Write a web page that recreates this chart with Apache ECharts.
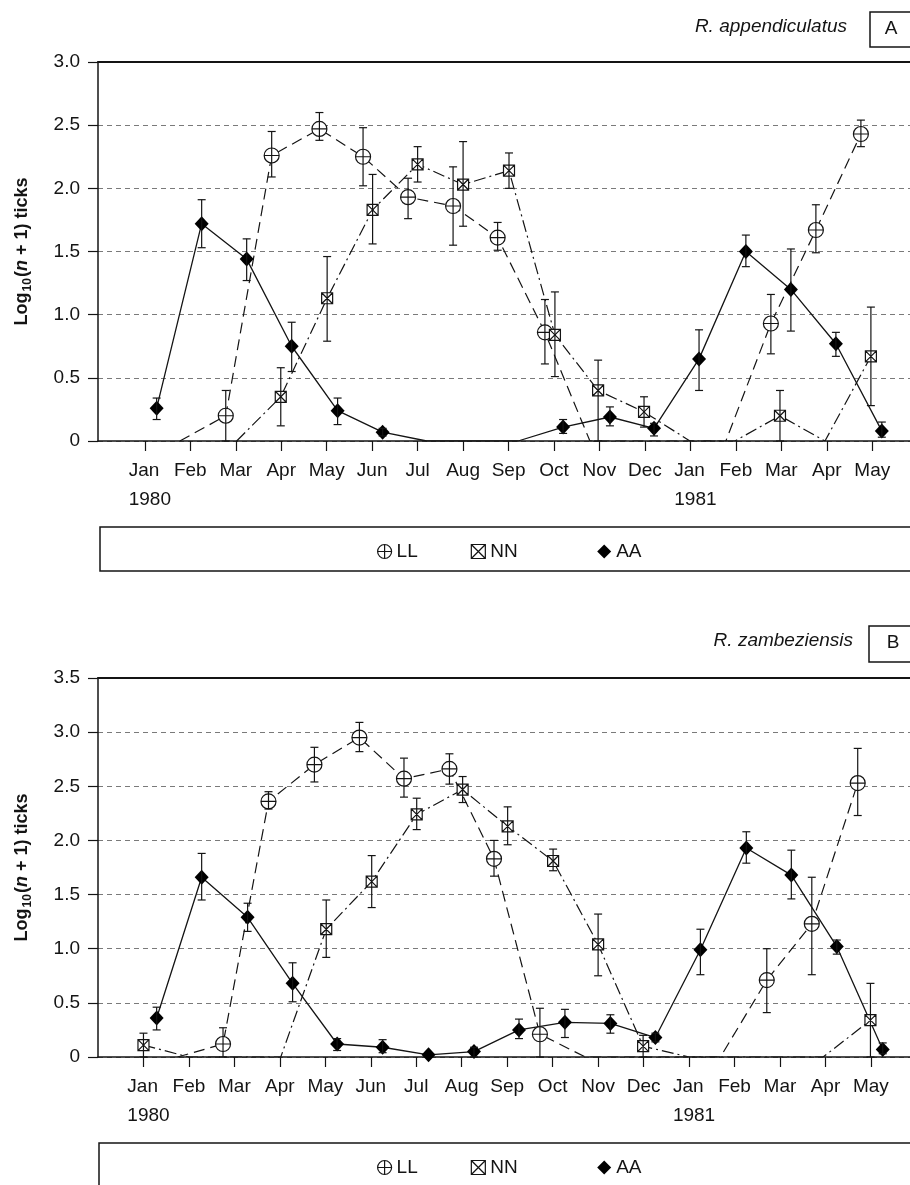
<!DOCTYPE html>
<html><head><meta charset="utf-8">
<script src="https://cdn.jsdelivr.net/npm/echarts@6/dist/echarts.min.js"></script>
<style>html,body{margin:0;padding:0;background:#fff}#c{width:910px;height:1185px}</style>
</head><body><div id="c"></div>
<script>
// ---- tick labels ----
const months = ['Jan','Feb','Mar','Apr','May','Jun','Jul','Aug','Sep','Oct','Nov','Dec','Jan','Feb','Mar','Apr','May'];
const yearLabels = ['1980','','','','','','','','','','','','1981','','','',''];
const monthPos = [0,1,2,3,4,5,6,7,8,9,10,11,12,13,14,15,16];
const seriesNames = ['LL','NN','AA'];

// ---- Panel A : R. appendiculatus ----
const A_LL_x  = [0.77,1.78,2.79,3.84,4.80,5.79,6.78,7.76,8.80,9.79,10.78,11.78,12.78,13.77,14.76,15.75];
const A_LL_y  = [0,0.20,2.26,2.47,2.25,1.93,1.86,1.61,0.86,0,0,0,0,0.93,1.67,2.43];
const A_LL_lo = [null,0,2.09,2.38,2.02,1.76,1.55,1.51,0.61,null,null,null,null,0.69,1.49,2.33];
const A_LL_hi = [null,0.40,2.45,2.60,2.48,2.08,2.17,1.73,1.12,null,null,null,null,1.16,1.87,2.54];

const A_NN_x  = [2.02,2.99,4.01,5.01,6.00,7.00,8.01,9.02,9.97,10.98,11.99,12.98,13.97,14.96,15.97];
const A_NN_y  = [0,0.35,1.13,1.83,2.19,2.03,2.14,0.84,0.40,0.23,0,0,0.20,0,0.67];
const A_NN_lo = [null,0.12,0.79,1.56,2.05,1.70,2.00,0.51,0,0.11,null,null,0,null,0.28];
const A_NN_hi = [null,0.58,1.46,2.11,2.33,2.37,2.28,1.18,0.64,0.35,null,null,0.40,null,1.06];

const A_AA_x  = [0.26,1.25,2.24,3.23,4.24,5.23,6.20,7.20,8.21,9.20,10.23,11.20,12.19,13.22,14.21,15.20,16.21];
const A_AA_y  = [0.26,1.72,1.44,0.75,0.24,0.07,0,0,0,0.11,0.19,0.10,0.65,1.50,1.20,0.77,0.08];
const A_AA_lo = [0.17,1.53,1.27,0.55,0.13,0.04,null,null,null,0.06,0.12,0.04,0.40,1.38,0.87,0.67,0.03];
const A_AA_hi = [0.34,1.91,1.60,0.94,0.34,0.10,null,null,null,0.17,0.27,0.14,0.88,1.63,1.52,0.86,0.15];

// ---- Panel B : R. zambeziensis ----
const B_LL_x  = [0.75,1.75,2.75,3.76,4.75,5.73,6.73,7.71,8.72,9.72,10.70,11.70,12.69,13.71,14.70,15.71];
const B_LL_y  = [0,0.12,2.36,2.70,2.95,2.57,2.66,1.83,0.21,0,0,0,0,0.71,1.23,2.53];
const B_LL_lo = [null,0,2.29,2.54,2.82,2.40,2.52,1.67,0,null,null,null,null,0.41,0.76,2.23];
const B_LL_hi = [null,0.27,2.45,2.86,3.09,2.76,2.80,2.00,0.45,null,null,null,null,1.00,1.66,2.85];

const B_NN_x  = [0.00,1.00,2.00,3.02,4.02,5.02,6.01,7.02,8.01,9.01,10.00,10.99,12.00,13.00,14.00,14.95,15.99];
const B_NN_y  = [0.11,0,0,0,1.18,1.62,2.24,2.47,2.13,1.81,1.04,0.10,0,0,0,0,0.34];
const B_NN_lo = [0,null,null,null,0.92,1.38,2.10,2.35,1.96,1.72,0.75,0,null,null,null,null,0];
const B_NN_hi = [0.22,null,null,null,1.45,1.86,2.39,2.59,2.31,1.92,1.32,0.20,null,null,null,null,0.68];

const B_AA_x  = [0.29,1.28,2.29,3.28,4.26,5.26,6.27,7.27,8.26,9.27,10.27,11.26,12.25,13.26,14.25,15.25,16.26];
const B_AA_y  = [0.36,1.66,1.29,0.68,0.12,0.09,0.02,0.05,0.25,0.32,0.31,0.18,0.99,1.93,1.68,1.02,0.07];
const B_AA_lo = [0.25,1.45,1.16,0.51,0.06,0.04,null,0.00,0.17,0.18,0.22,0.14,0.76,1.79,1.46,0.95,0.03];
const B_AA_hi = [0.46,1.88,1.42,0.87,0.17,0.16,null,0.09,0.35,0.44,0.39,0.22,1.18,2.08,1.91,1.08,0.13];

// ---- rendering ----
const FONT = '"Liberation Sans", Arial, Helvetica, sans-serif';
const INK = '#141414';
const SYM_LL = 'path://M0,8A8,8 0 1,1 16,8A8,8 0 1,1 0,8ZM0,8L16,8';
const ICON_LL = 'path://M0,8A8,8 0 1,1 16,8A8,8 0 1,1 0,8ZM0,8L16,8M8,0L8,16';
const SYM_NN = 'path://M0,0L12,0L12,12L0,12ZM0,0L12,12M12,0L0,12';

function lineData(xs, ys) {
  return xs.map((x, i) => ys[i] === 0 ? { value: [x, 0], symbol: 'none' } : [x, ys[i]]);
}
function errData(xs, lo, hi) {
  const out = [];
  xs.forEach((x, i) => { if (lo[i] != null) out.push([x, lo[i], hi[i]]); });
  return out;
}
function renderErr(params, api) {
  const x = api.value(0), lo = api.value(1), hi = api.value(2);
  const a = api.coord([x, hi]), b = api.coord([x, lo]);
  const w = 4, st = { stroke: INK, lineWidth: 1.2 };
  return { type: 'group', children: [
    { type: 'line', shape: { x1: a[0], y1: a[1], x2: b[0], y2: b[1] }, style: st },
    { type: 'line', shape: { x1: a[0] - w, y1: a[1], x2: a[0] + w, y2: a[1] }, style: st },
    { type: 'line', shape: { x1: b[0] - w, y1: b[1], x2: b[0] + w, y2: b[1] }, style: st }
  ]};
}
const styles = {
  LL: { symbol: SYM_LL, symbolSize: 15, itemStyle: { color: '#fff', borderColor: INK, borderWidth: 1.2 }, lineStyle: { color: INK, width: 1.2, type: [11, 6] } },
  NN: { symbol: SYM_NN, symbolSize: 11, itemStyle: { color: '#fff', borderColor: INK, borderWidth: 1.2 }, lineStyle: { color: INK, width: 1.2, type: [12, 4, 2, 4] } },
  AA: { symbol: 'diamond', symbolSize: [14, 15], itemStyle: { color: '#000', borderWidth: 0 }, lineStyle: { color: INK, width: 1.3, type: 'solid' } }
};
function makeSeries(name, xi, yi, xs, ys, lo, hi) {
  const s = styles[name];
  return [
    { name, type: 'line', xAxisIndex: xi, yAxisIndex: yi, data: lineData(xs, ys),
      symbol: s.symbol, symbolSize: s.symbolSize, itemStyle: s.itemStyle, lineStyle: s.lineStyle,
      z: 2, silent: true },
    { name: name + '_err', type: 'custom', xAxisIndex: xi, yAxisIndex: yi, data: errData(xs, lo, hi),
      encode: { x: 0, y: [1, 2] }, renderItem: renderErr, z: 4, silent: true }
  ];
}
function xBottom(g, min, max) {
  return {
    gridIndex: g, type: 'value', position: 'bottom', min, max,
    axisLine: { show: true, onZero: false, lineStyle: { color: INK, width: 1.5 } },
    axisTick: { show: true, customValues: monthPos, length: 10, lineStyle: { color: INK, width: 1.2 } },
    axisLabel: {
      show: true, customValues: monthPos, margin: 15, fontSize: 19, fontFamily: FONT, color: INK, lineHeight: 29,
      formatter: v => { const i = Math.round(v); return yearLabels[i] ? '{m|' + months[i] + '}\n{y|' + yearLabels[i] + '}' : months[i]; },
      rich: {
        m: { align: 'left', padding: [0, 0, 0, 10], fontSize: 19, fontFamily: FONT, color: INK, lineHeight: 29 },
        y: { align: 'left', padding: [0, 0, 0, 10], fontSize: 19, fontFamily: FONT, color: INK, lineHeight: 29 }
      }
    },
    splitLine: { show: false }
  };
}
function xTop(g, min, max) {
  return { gridIndex: g, type: 'value', position: 'top', min, max,
    axisLine: { show: true, onZero: false, lineStyle: { color: INK, width: 2 } },
    axisTick: { show: false }, axisLabel: { show: false }, splitLine: { show: false } };
}
const yName = '{b|Log}{s|10}{b|(}{i|n}{b| + 1) ticks}';
function yAxis(g, max) {
  return {
    gridIndex: g, type: 'value', min: 0, max, interval: 0.5,
    axisLine: { show: true, onZero: false, lineStyle: { color: INK, width: 1.5 } },
    axisTick: { show: true, length: 10, lineStyle: { color: INK, width: 1.2 } },
    axisLabel: { fontSize: 19, fontFamily: FONT, color: INK, margin: 18, formatter: v => v === 0 ? '0' : v.toFixed(1) },
    splitLine: { show: true, lineStyle: { color: '#7a7a7a', width: 1.2, type: [5, 4] } },
    name: yName, nameLocation: 'middle', nameGap: 64,
    nameTextStyle: { rich: {
      b: { fontSize: 18, fontWeight: 'bold', fontFamily: FONT, color: INK, lineHeight: 24 },
      i: { fontSize: 18, fontWeight: 'bold', fontStyle: 'italic', fontFamily: FONT, color: INK, lineHeight: 24 },
      s: { fontSize: 12, fontWeight: 'bold', fontFamily: FONT, color: INK, lineHeight: 12, verticalAlign: 'bottom', padding: [0, 1, 0, 1] }
    } }
  };
}
const legendItems = [
  { name: 'LL', icon: ICON_LL, itemStyle: { color: '#fff', borderColor: INK, borderWidth: 1.2 } },
  { name: 'NN', icon: SYM_NN, itemStyle: { color: '#fff', borderColor: INK, borderWidth: 1.2 } },
  { name: 'AA', icon: 'diamond', itemStyle: { color: '#000', borderWidth: 0 } }
];
function legend(top) {
  return { left: 377, top, padding: 0, itemWidth: 14, itemHeight: 14, itemGap: 53, selectedMode: false,
    formatter: n => n === 'NN' ? 'NN     ' : n,
    textStyle: { fontSize: 19, fontFamily: FONT, color: INK }, data: legendItems };
}
function txt(x, y, text, font, align) {
  return { type: 'text', x, y, silent: true, style: { text, font, fill: INK, align, textAlign: align, verticalAlign: 'middle', textVerticalAlign: 'middle' } };
}
function box(x, y, w, h) {
  return { type: 'rect', silent: true, shape: { x, y, width: w, height: h }, style: { fill: 'none', stroke: INK, lineWidth: 1.5 } };
}

const option = {
  animation: false,
  backgroundColor: '#fff',
  textStyle: { fontFamily: FONT },
  grid: [
    { left: 98, top: 62, width: 812, height: 379 },
    { left: 98, top: 678, width: 812, height: 379 }
  ],
  xAxis: [ xBottom(0, -1.03, 16.83), xTop(0, -1.03, 16.83), xBottom(1, -1.0, 16.86), xTop(1, -1.0, 16.86) ],
  yAxis: [ yAxis(0, 3), yAxis(1, 3.5) ],
  legend: [ legend(542), legend(1158) ],
  graphic: [
    txt(847, 27, 'R. appendiculatus', 'italic 19px ' + FONT, 'right'),
    box(870, 12, 60, 35),
    txt(891, 29, 'A', '19px ' + FONT, 'center'),
    txt(853, 641, 'R. zambeziensis', 'italic 19px ' + FONT, 'right'),
    box(869, 626, 60, 36),
    txt(893, 643, 'B', '19px ' + FONT, 'center'),
    box(100, 527, 900, 44),
    box(99, 1143, 900, 44)
  ],
  series: [].concat(
    makeSeries('LL', 0, 0, A_LL_x, A_LL_y, A_LL_lo, A_LL_hi),
    makeSeries('NN', 0, 0, A_NN_x, A_NN_y, A_NN_lo, A_NN_hi),
    makeSeries('AA', 0, 0, A_AA_x, A_AA_y, A_AA_lo, A_AA_hi),
    makeSeries('LL', 2, 1, B_LL_x, B_LL_y, B_LL_lo, B_LL_hi),
    makeSeries('NN', 2, 1, B_NN_x, B_NN_y, B_NN_lo, B_NN_hi),
    makeSeries('AA', 2, 1, B_AA_x, B_AA_y, B_AA_lo, B_AA_hi)
  )
};
const chart = echarts.init(document.getElementById('c'));
chart.setOption(option);
</script>
</body></html>
